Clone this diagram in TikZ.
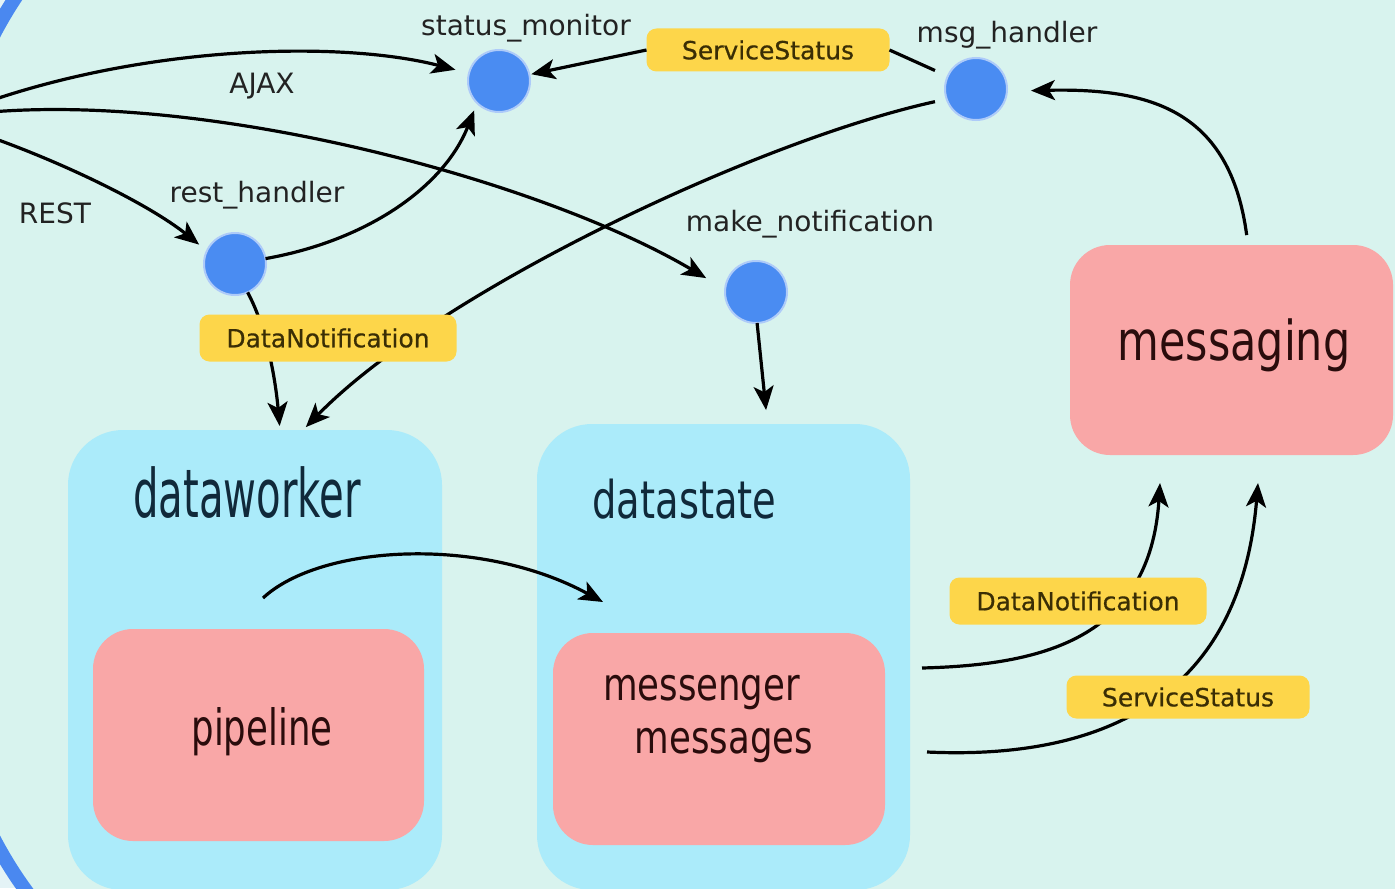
\documentclass[tikz,border=0pt]{standalone}
\usepackage{graphicx}
\usepackage{fontspec}
\setmainfont{DejaVu Sans}
\newfontfamily\tagfont[FakeBold=0.6]{DejaVu Sans}
\usetikzlibrary{arrows.meta,calc}
\definecolor{bgout}{HTML}{E4F3F6}
\definecolor{bgin}{HTML}{D8F3EE}
\definecolor{frameblue}{HTML}{4A88F0}
\definecolor{contblue}{HTML}{ABEBFA}
\definecolor{pinkbox}{HTML}{F9A7A7}
\definecolor{dotblue}{HTML}{4A8CF2}
\definecolor{tagyellow}{HTML}{FDD64A}
\definecolor{tagtext}{HTML}{3A2E05}
\definecolor{conttext}{HTML}{10293A}
\definecolor{pinktext}{HTML}{2A0C0C}
\definecolor{lbltext}{HTML}{222222}
\begin{document}
\begin{tikzpicture}[x=0.5pt,y=-0.5pt,
  container/.style={fill=contblue, rounded corners=27.5pt, inner sep=0pt, outer sep=0pt},
  pinkrect/.style={fill=pinkbox, rounded corners=20pt, inner sep=0pt, outer sep=0pt},
  dot/.style={circle, fill=dotblue, draw=white!55!dotblue, line width=1pt, minimum size=31pt, inner sep=0pt, outer sep=0pt},
  tag/.style={fill=tagyellow, rounded corners=5pt, inner sep=0pt, outer sep=0pt, text=tagtext, font=\tagfont\fontsize{12.5pt}{14pt}\selectfont},
  lbl/.style={anchor=base, text=lbltext, font=\fontsize{14pt}{16pt}\selectfont, inner sep=0pt},
  big/.style={anchor=base, inner sep=0pt},
  edge/.style={draw=black, line width=1.6pt},
  arr/.style={-{Stealth[length=12pt,width=10pt,inset=3pt]}},
]
\useasboundingbox (0,0) rectangle (1395,888);
\clip (0,0) rectangle (1395,888);
\fill[bgout] (0,0) rectangle (1395,888);
% outer frame
\draw[line width=7pt, draw=frameblue, fill=bgin, rounded corners=203.5pt] (-52,-185) rectangle (1800,1058);

% containers
\node[container, minimum width=187pt, minimum height=230pt] (dataworker) at (255,660) {};
\node[container, minimum width=186.5pt, minimum height=233pt] (datastate) at (723.5,657) {};
\node[pinkrect, minimum width=165.5pt, minimum height=106pt] (pipeline) at (258.5,735) {};
\node[pinkrect, minimum width=166pt, minimum height=106pt] (messenger) at (719,739) {};
\node[pinkrect, minimum width=161.5pt, minimum height=105pt] (messaging) at (1231.5,350) {};

% dots
\node[dot] (status) at (499,81) {};
\node[dot] (msg) at (976,89) {};
\node[dot] (rest) at (235,264) {};
\node[dot] (make) at (756,292) {};

% off-canvas sources
\coordinate (cA) at (-30,108);
\coordinate (cB) at (-30,114);
\coordinate (cC) at (-30,130);

% edges
\draw[edge,arr,shorten >=7pt] (cA) .. controls (140,45) and (340,40) .. (status);
\draw[edge,arr,shorten >=11pt] (cB) .. controls (200,88) and (540,180) .. (make.175);
\draw[edge,arr,shorten >=5pt] (cC) .. controls (60,160) and (150,205) .. (rest.155);
\draw[edge,arr,shorten >=4pt] (rest.10) .. controls (370,240) and (445,185) .. (status.225);

\node[tag, minimum width=121.5pt, minimum height=21.5pt] (ss1) at (768,50) {ServiceStatus};
\draw[edge,shorten <=7pt] (msg) -- (ss1.east);
\draw[edge,arr,shorten >=1pt] (ss1.west) -- (status);

\draw[edge,arr,shorten <=6pt,shorten >=2pt] (msg.199) .. controls (760,140) and (440,290) .. ($(dataworker.north)+(48,0)$);
\draw[edge,arr,shorten >=2pt] (rest.-66) .. controls (268,330) and (276,385) .. ($(dataworker.north)+(25,0)$);
\draw[edge,arr,shorten >=7pt] (make.-88) -- ($(datastate.north)+(44,0)$);
\draw[edge,arr,shorten <=5pt,shorten >=12pt] ($(messaging.north)+(16.5,0)$) .. controls (1230,110) and (1150,88) .. (msg.-4);
\draw[edge,arr] ($(pipeline.north)+(4.5,-31)$) .. controls (320,545) and (480,535) .. ($(messenger.north)+(-116,-31)$);
\draw[edge,arr] ($(messenger.east)+(37,-71)$) .. controls (1040,665) and (1150,640) .. ($(messaging.south)+(-71.5,28)$);
\draw[edge,arr] ($(messenger.east)+(42,13)$) .. controls (1100,760) and (1240,700) .. ($(messaging.south)+(26.5,28)$);

% tags on edges
\node[tag, minimum width=128.5pt, minimum height=23.5pt] (dn1) at (328,338) {DataNotification};
\node[tag, minimum width=128.5pt, minimum height=23.5pt] (dn2) at (1078,601) {DataNotification};
\node[tag, minimum width=121.5pt, minimum height=21.5pt] (ss2) at (1188,697) {ServiceStatus};

% dot labels
\node[lbl] (statuslbl) at (526,36) {status\_monitor};
\node[lbl] (msglbl) at (1007,43) {msg\_handler};
\node[lbl] (restlbl) at (257,202) {rest\_handler};
\node[lbl] (makelbl) at (810,231) {make\_notification};
\node[lbl] (ajaxlbl) at (262,94) {AJAX};
\node[lbl] (restproto) at (55,223) {REST};

% box labels
\node[big, text=conttext] (dwlabel) at (247,517) {\fontsize{33.5pt}{36pt}\selectfont\scalebox{0.60}[1]{dataworker}};
\node[big, text=conttext] (dslabel) at (684.5,518) {\fontsize{26pt}{30pt}\selectfont\scalebox{0.74}[1]{datastate}};
\node[big, text=pinktext] (pllabel) at (262,745) {\fontsize{25pt}{28pt}\selectfont\scalebox{0.71}[1]{pipeline}};
\node[big, text=pinktext] (mslabel1) at (701.5,700) {\fontsize{22.5pt}{26pt}\selectfont\scalebox{0.79}[1]{messenger}};
\node[big, text=pinktext] (mslabel2) at (724,753) {\fontsize{22.5pt}{26pt}\selectfont\scalebox{0.79}[1]{messages}};
\node[big, text=pinktext] (mglabel) at (1234,360) {\fontsize{27.5pt}{30pt}\selectfont\scalebox{0.78}[1]{messaging}};
\end{tikzpicture}
\end{document}
